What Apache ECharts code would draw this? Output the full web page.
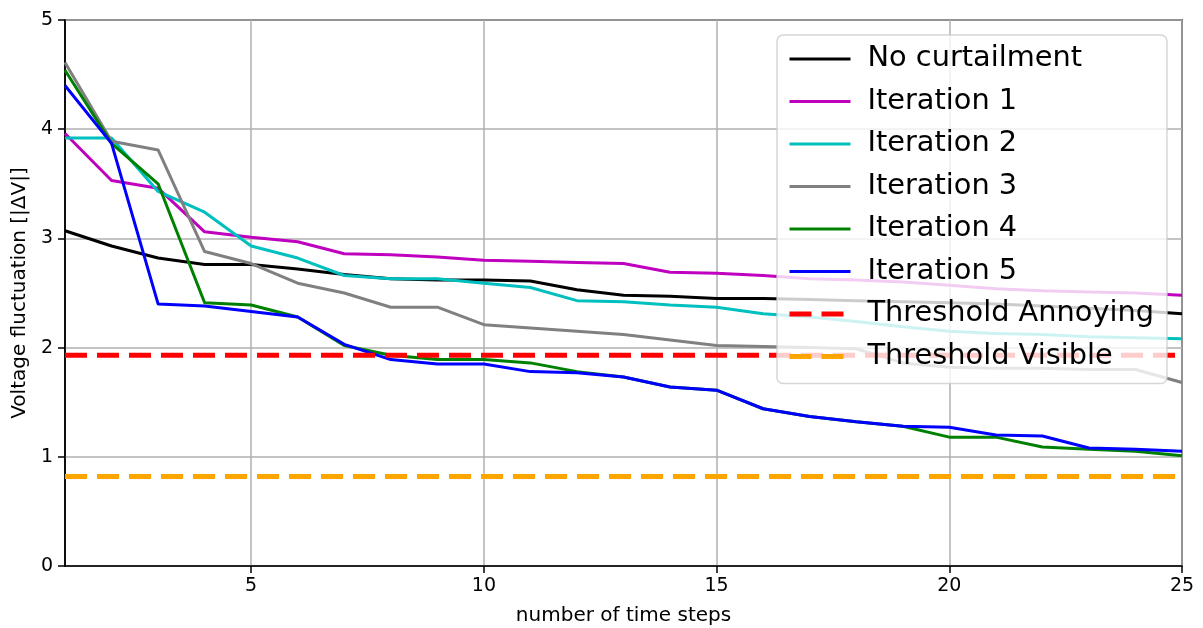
<!DOCTYPE html>
<html>
<head>
<meta charset="utf-8">
<title>Voltage fluctuation vs number of time steps</title>
<script src="https://cdn.jsdelivr.net/npm/echarts@6/dist/echarts.min.js"></script>
<style>
  html, body { margin: 0; padding: 0; background: #ffffff; }
  #chart { width: 1203px; height: 628px; }
</style>
</head>
<body>
<div id="chart"></div>
<script>
// Time steps on the x axis
const steps = [1, 2, 3, 4, 5, 6, 7, 8, 9, 10, 11, 12, 13, 14, 15, 16, 17, 18, 19, 20, 21, 22, 23, 24, 25];

// Voltage fluctuation |ΔV| per curtailment run
const noCurtailment = [3.07, 2.93, 2.82, 2.76, 2.76, 2.72, 2.67, 2.63, 2.62, 2.62, 2.61, 2.53, 2.48, 2.47, 2.45, 2.45, 2.44, 2.43, 2.42, 2.41, 2.40, 2.38, 2.36, 2.34, 2.31];
const iteration1 = [3.96, 3.53, 3.46, 3.06, 3.01, 2.97, 2.86, 2.85, 2.83, 2.80, 2.79, 2.78, 2.77, 2.69, 2.68, 2.66, 2.63, 2.62, 2.60, 2.57, 2.54, 2.52, 2.51, 2.50, 2.48];
const iteration2 = [3.92, 3.92, 3.43, 3.24, 2.93, 2.82, 2.66, 2.63, 2.63, 2.59, 2.55, 2.43, 2.42, 2.39, 2.37, 2.31, 2.28, 2.24, 2.19, 2.15, 2.13, 2.12, 2.10, 2.09, 2.08];
const iteration3 = [4.61, 3.89, 3.81, 2.88, 2.77, 2.59, 2.50, 2.37, 2.37, 2.21, 2.18, 2.15, 2.12, 2.07, 2.02, 2.01, 2.00, 1.99, 1.86, 1.82, 1.81, 1.81, 1.80, 1.80, 1.68];
const iteration4 = [4.54, 3.87, 3.50, 2.41, 2.39, 2.28, 2.02, 1.93, 1.89, 1.89, 1.86, 1.78, 1.73, 1.64, 1.61, 1.44, 1.37, 1.32, 1.28, 1.18, 1.18, 1.09, 1.07, 1.05, 1.01];
const iteration5 = [4.40, 3.87, 2.40, 2.38, 2.33, 2.28, 2.03, 1.89, 1.85, 1.85, 1.78, 1.77, 1.73, 1.64, 1.61, 1.44, 1.37, 1.32, 1.28, 1.27, 1.20, 1.19, 1.08, 1.07, 1.05];

// Perception thresholds
const thresholdAnnoying = 1.93;
const thresholdVisible = 0.82;

// Axis ticks
const xTicks = [5, 10, 15, 20, 25];
const yTicks = [0, 1, 2, 3, 4, 5];

const FONT = 'DejaVu Sans';
const SOLID_W = 3;
const DASH_W = 5;
const DASH = [22, 10];

function pairs(values) {
  return steps.map((s, i) => [s, values[i]]);
}
function flat(v) {
  return steps.map(s => [s, v]);
}

function solid(name, values, color) {
  return {
    name: name,
    type: 'line',
    data: pairs(values),
    symbol: 'none',
    showSymbol: false,
    clip: true,
    lineStyle: { color: color, width: SOLID_W, join: 'round', cap: 'butt' },
    itemStyle: { color: color },
    emphasis: { disabled: true }
  };
}
function dashed(name, v, color) {
  return {
    name: name,
    type: 'line',
    data: flat(v),
    symbol: 'none',
    showSymbol: false,
    clip: true,
    lineStyle: { color: color, width: DASH_W, type: DASH },
    itemStyle: { color: color },
    emphasis: { disabled: true }
  };
}

// Legend entries: line handle only, no marker
function legendItem(name, color, isDashed) {
  return {
    name: name,
    itemStyle: { color: 'rgba(0,0,0,0)', borderWidth: 0, opacity: 0 },
    lineStyle: isDashed
      ? { color: color, width: DASH_W, type: DASH }
      : { color: color, width: SOLID_W, type: 'solid' }
  };
}

const chart = echarts.init(document.getElementById('chart'), null, { renderer: 'canvas' });

chart.setOption({
  animation: false,
  backgroundColor: '#ffffff',
  textStyle: { fontFamily: FONT },
  grid: {
    left: 65, right: 21, top: 20, bottom: 62,
    containLabel: false,
    outerBoundsMode: 'none',
    show: true, borderColor: '#000000', borderWidth: 1.5, backgroundColor: 'transparent'
  },
  legend: {
    orient: 'vertical',
    left: 777,
    top: 35,
    padding: [9, 13, 12, 10],
    itemWidth: 61,
    itemHeight: 30,
    itemGap: 12.5,
    backgroundColor: 'rgba(255,255,255,0.8)',
    borderColor: 'rgba(204,204,204,0.8)',
    borderWidth: 1.5,
    borderRadius: 6,
    selectedMode: false,
    textStyle: {
      fontFamily: FONT, fontSize: 28.8, color: '#000000',
      lineHeight: 30, padding: [0, 0, 0, 12]
    },
    data: [
      legendItem('No curtailment', '#000000', false),
      legendItem('Iteration 1', '#bf00bf', false),
      legendItem('Iteration 2', '#00bfbf', false),
      legendItem('Iteration 3', '#808080', false),
      legendItem('Iteration 4', '#008000', false),
      legendItem('Iteration 5', '#0000ff', false),
      legendItem('Threshold Annoying', '#ff0000', true),
      legendItem('Threshold Visible', '#ffa500', true)
    ]
  },
  xAxis: {
    type: 'value',
    min: 1,
    max: 25,
    name: 'number of time steps',
    nameLocation: 'middle',
    nameGap: 40,
    nameTextStyle: { fontFamily: FONT, fontSize: 20, color: '#000000' },
    axisLine: { show: true, lineStyle: { color: '#000000', width: 1.5 } },
    axisTick: { show: true, length: 7, inside: false, customValues: xTicks, lineStyle: { color: '#000000', width: 1.5 } },
    axisLabel: { customValues: xTicks, margin: 11, fontFamily: FONT, fontSize: 19, color: '#000000' },
    splitLine: { show: true, lineStyle: { color: '#b0b0b0', width: 1.5 } }
  },
  yAxis: {
    type: 'value',
    min: yTicks[0],
    max: yTicks[yTicks.length - 1],
    interval: 1,
    name: 'Voltage fluctuation [|ΔV|]',
    nameLocation: 'middle',
    nameGap: 33,
    nameRotate: 90,
    nameTextStyle: { fontFamily: FONT, fontSize: 20, color: '#000000' },
    axisLine: { show: true, lineStyle: { color: '#000000', width: 1.5 } },
    axisTick: { show: true, length: 7, inside: false, lineStyle: { color: '#000000', width: 1.5 } },
    axisLabel: { margin: 12, fontFamily: FONT, fontSize: 19, color: '#000000' },
    splitLine: { show: true, lineStyle: { color: '#b0b0b0', width: 1.5 } }
  },
  series: [
    solid('No curtailment', noCurtailment, '#000000'),
    solid('Iteration 1', iteration1, '#bf00bf'),
    solid('Iteration 2', iteration2, '#00bfbf'),
    solid('Iteration 3', iteration3, '#808080'),
    solid('Iteration 4', iteration4, '#008000'),
    solid('Iteration 5', iteration5, '#0000ff'),
    dashed('Threshold Annoying', thresholdAnnoying, '#ff0000'),
    dashed('Threshold Visible', thresholdVisible, '#ffa500')
  ]
});
</script>
</body>
</html>
